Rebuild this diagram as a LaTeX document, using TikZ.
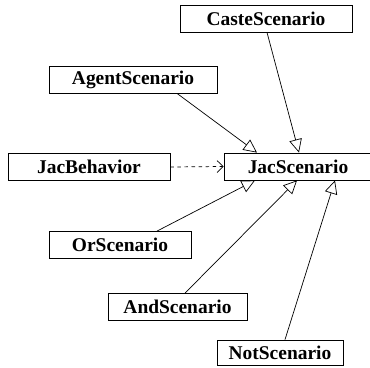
\documentclass[tikz,border=0pt]{standalone}
\usepackage{fontspec}
\setmainfont{Liberation Serif}
\usetikzlibrary{arrows.meta,calc}

\begin{document}
\begin{tikzpicture}[x=0.03cm,y=-0.03cm]

  % Styles for the class boxes and the two kinds of links
  \tikzset{
    cls/.style={draw, line width=0.7pt, fill=white, inner sep=0pt,
      minimum height=27*0.03cm, font=\fontsize{16.6}{18}\selectfont\bfseries},
    inherit/.style={line width=0.6pt, -{Triangle[open, length=0.4cm, width=0.38cm]}},
    uses/.style={line width=0.6pt, dashed, -{Straight Barb[length=0.18cm, width=0.36cm]}}
  }

  % Fix the page to the size of the reference
  \useasboundingbox (0,0) rectangle (370,367);

  % The central class, cut off at the right border
  \begin{scope}
    \clip (0,0) rectangle (370,367);
    \node[cls, minimum width=148*0.03cm] (jacs) at (298,166.5) {JacScenario};
  \end{scope}

  % The classes around it
  \node[cls, minimum width=172*0.03cm] (caste) at (266,18.5) {CasteScenario};
  \node[cls, minimum width=168*0.03cm] (agent) at (133,79.5) {AgentScenario};
  \node[cls, minimum width=162*0.03cm] (beh) at (89,167) {JacBehavior};
  \node[cls, minimum width=142*0.03cm] (or) at (120,245) {OrScenario};
  \node[cls, minimum width=139*0.03cm] (and) at (177.5,307) {AndScenario};
  \node[cls, minimum width=126*0.03cm, minimum height=25*0.03cm] (not) at (280,352.5) {NotScenario};

  % Generalisation links
  \draw[inherit] ($(agent.south)+(44,0)$) -- ($(jacs.north)+(-41,0)$);
  \draw[inherit] ($(caste.south)+(1,0)$) -- ($(jacs.north)+(1,0)$);
  \draw[inherit] ($(or.north)+(37,0)$) -- ($(jacs.south)+(-43,0)$);
  \draw[inherit] ($(and.north)+(7.5,0)$) -- ($(jacs.south)+(-1,0)$);
  \draw[inherit] ($(not.north)+(5,0)$) -- ($(jacs.south)+(37,0)$);

  % Dependency link
  \draw[uses] (beh.east) -- (jacs.west);

\end{tikzpicture}
\end{document}
